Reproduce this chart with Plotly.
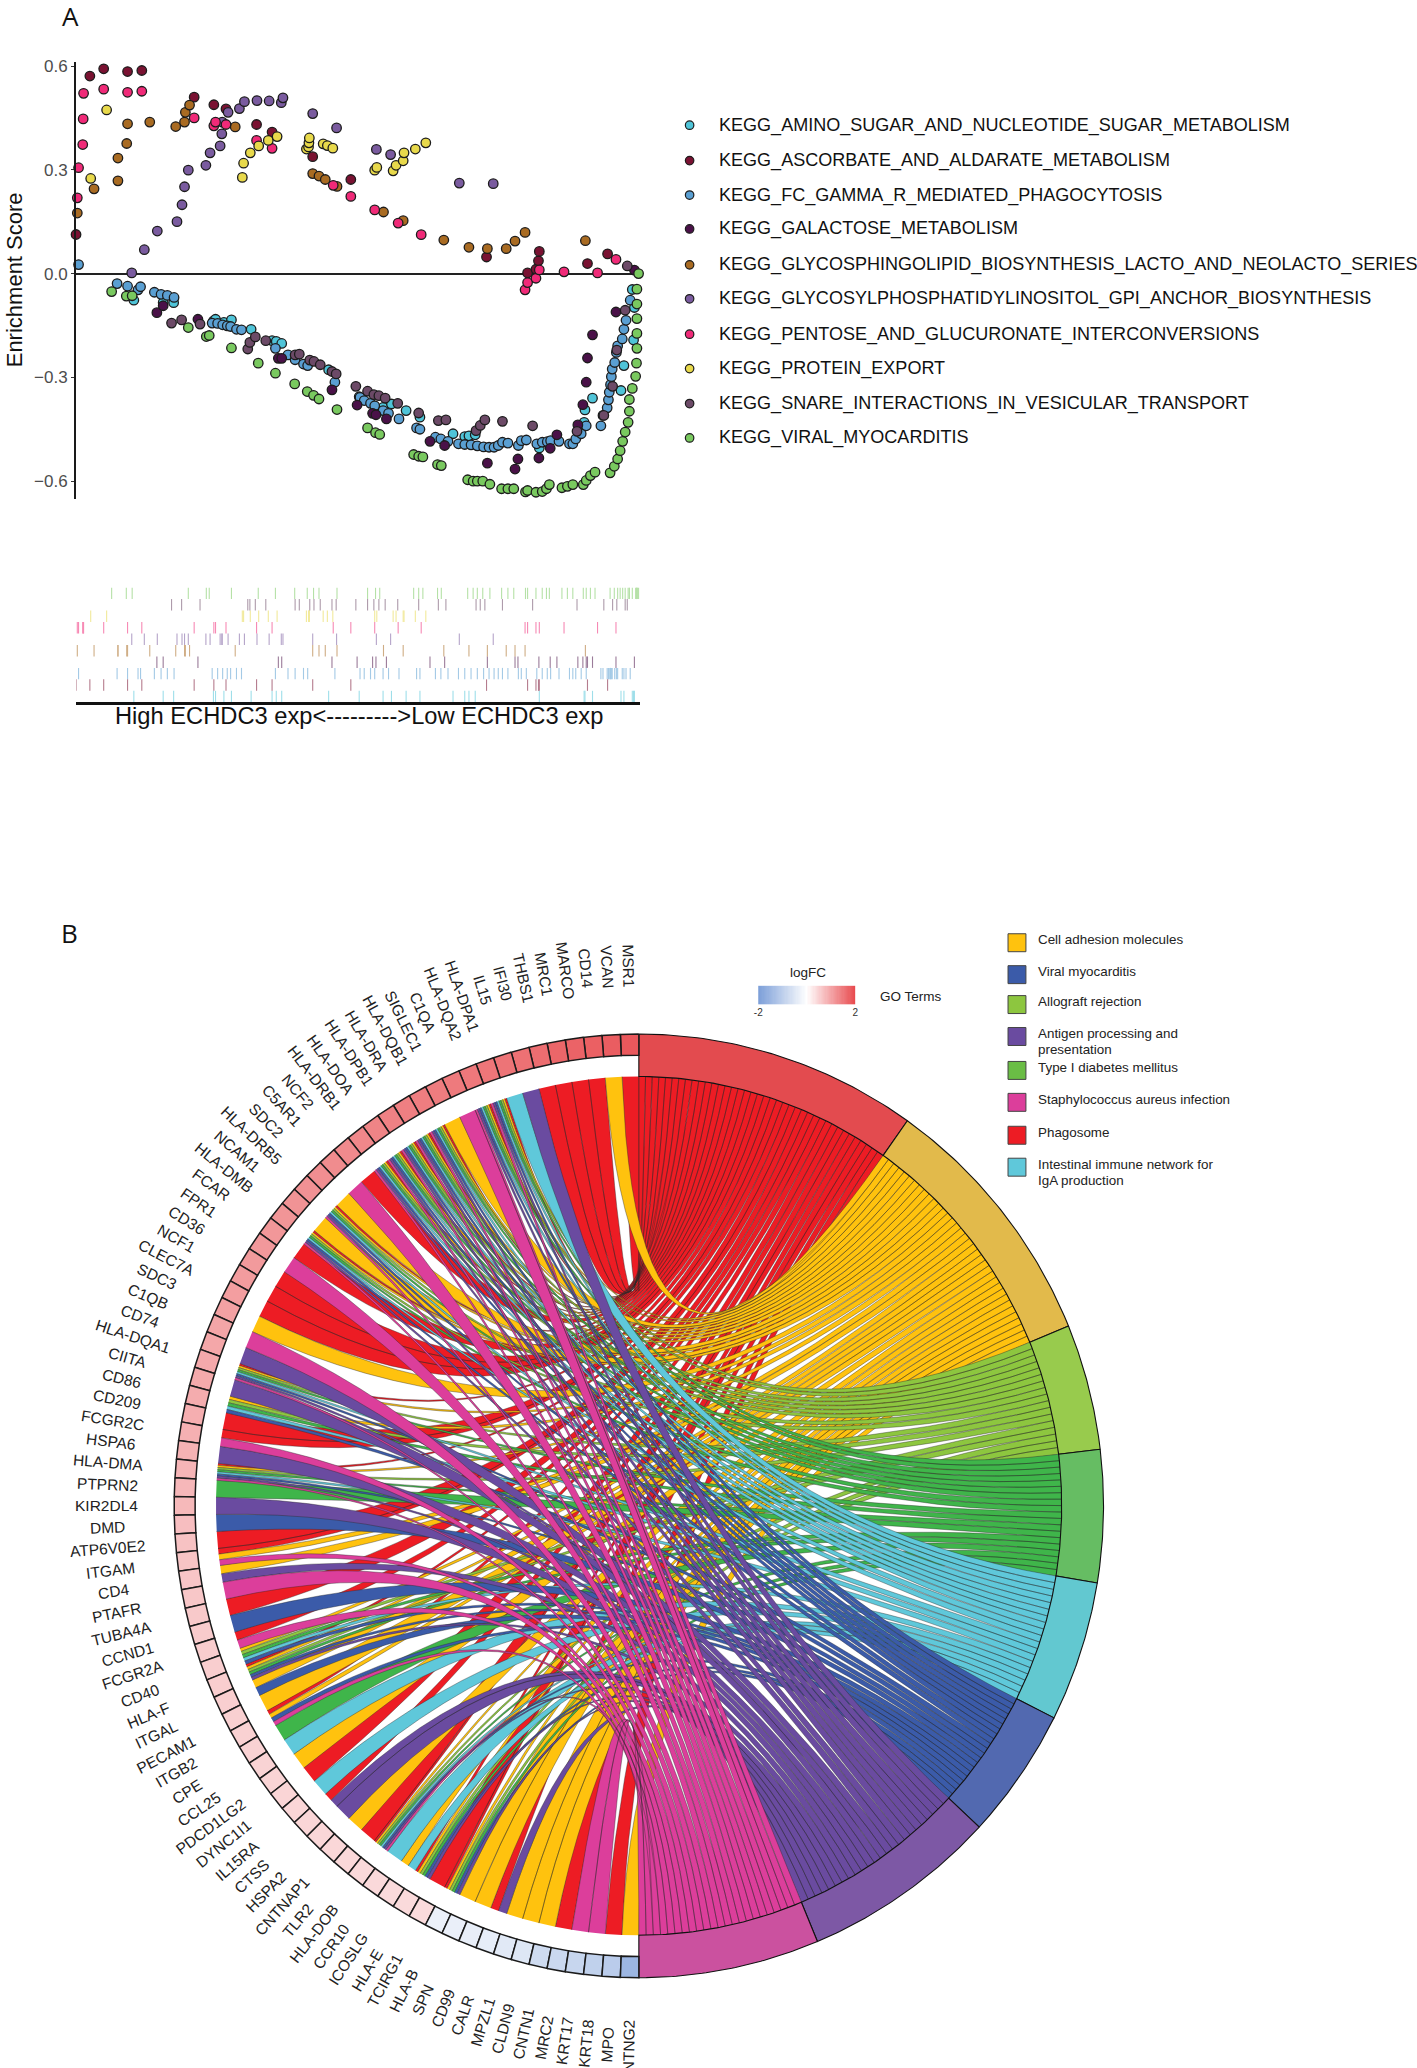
import numpy as np
import plotly.graph_objects as go
from plotly.colors import sample_colorscale

W, H = 1417, 2068

# --- Panel A: running enrichment scores, rank along the gene list / ES ---
amino_rank = [138, 208, 233, 328, 333, 353, 371, 418, 468, 478, 491, 603, 676, 733, 753, 788, 821, 900, 928, 938, 953,
              1106, 1213, 1215, 1233, 1301, 1308, 1331, 1333, 1328]
amino_es = [-.077, -.084, -.084, -.137, -.132, -.141, -.134, -.161, -.194, -.196, -.202, -.278, -.356, -.387, -.377,
            -.396, -.415, -.463, -.471, -.469, -.466, -.504, -.43, -.394, -.36, -.338, -.266, -.192, -.098, -.046]

ascorbate_rank = [0, 33, 66, 123, 157, 282, 329, 358, 431, 468, 565, 656, 980, 1078, 1098, 1104, 1106, 1221, 1269]
ascorbate_es = [.113, .571, .592, .584, .587, .51, .488, .476, .431, .409, .338, .272, .048, .002, .0125, .037, .064,
                .029, .057]

fc_rank = [6, 98, 123, 148, 154, 187, 203, 218, 234, 325, 338, 350, 361, 369, 383, 395, 476, 506, 523, 543, 553, 618,
           678, 688, 703, 713, 733, 746, 771, 813, 821, 858, 871, 888, 913, 928, 943, 958, 973, 986, 998, 1008, 1018,
           1031, 1056, 1063, 1075, 1100, 1113, 1125, 1133, 1153, 1178, 1186, 1193, 1206, 1218, 1253, 1258, 1268, 1271,
           1273, 1276, 1278, 1280, 1286, 1290, 1293, 1304, 1308, 1313, 1323]
fc_es = [.026, -.029, -.0365, -.047, -.038, -.054, -.06, -.063, -.069, -.143, -.144, -.148, -.151, -.153, -.161,
         -.1625, -.216, -.235, -.249, -.2615, -.266, -.314, -.358, -.367, -.375, -.382, -.396, -.404, -.42, -.446,
         -.45, -.473, -.478, -.485, -.492, -.494, -.495, -.498, -.501, -.502, -.502, -.497, -.4875, -.49, -.497,
         -.483, -.481, -.492, -.4875, -.486, -.483, -.485, -.492, -.492, -.478, -.463, -.44, -.44, -.41, -.388, -.365,
         -.343, -.321, -.298, -.276, -.257, -.228, -.209, -.189, -.161, -.135, -.077]

galactose_rank = [193, 208, 291, 483, 491, 611, 671, 708, 716, 741, 845, 880, 982, 1048, 1055, 1105, 1132, 1148, 1198,
                  1210, 1218, 1221, 1233, 1289, 1333]
galactose_es = [-.113, -.093, -.132, -.245, -.245, -.336, -.38, -.404, -.408, -.42, -.485, -.497, -.548, -.565, -.536,
                -.533, -.505, -.466, -.4375, -.379, -.314, -.244, -.177, -.111, .01]

glyco_rank = [3, 43, 100, 100, 121, 123, 176, 238, 259, 261, 271, 380, 565, 580, 595, 623, 734, 781, 878, 938, 982,
              1027, 1048, 1072, 1216]
glyco_es = [.175, .245, .268, .334, .376, .433, .438, .425, .438, .466, .487, .424, .289, .282, .272, .252, .178, .153,
            .097, .076, .072, .072, .094, .119, .095]

gpi_rank = [133, 163, 194, 241, 253, 259, 268, 310, 320, 344, 348, 349, 363, 390, 402, 432, 461, 490, 494, 565, 622,
            717, 751, 915, 996]
gpi_es = [.002, .069, .123, .15, .199, .251, .299, .313, .349, .369, .404, .438, .466, .477, .497, .5, .499, .494,
          .508, .4625, .421, .359, .344, .2615, .26]

pentose_rank = [3, 6, 16, 17, 18, 66, 123, 157, 282, 329, 333, 358, 431, 468, 614, 656, 713, 769, 824, 1072, 1078,
                1098, 1106, 1165, 1245, 1289]
pentose_es = [.219, .306, .373, .447, .521, .533, .524, .527, .45, .427, .438, .431, .385, .362, .255, .223, .184,
              .146, .1125, -.047, -.026, -.0135, .0106, .005, .002, .041]

protein_rank = [35, 73, 397, 400, 416, 436, 459, 480, 550, 555, 556, 557, 590, 600, 613, 713, 718, 757, 764, 781, 783,
                810, 835]
protein_es = [.275, .473, .278, .319, .349, .369, .385, .396, .36, .366, .378, .392, .375, .37, .3625, .299, .307,
              .297, .313, .326, .349, .36, .378]

snare_rank = [228, 252, 296, 410, 415, 428, 453, 523, 533, 558, 568, 583, 611, 621, 668, 696, 711, 723, 738, 768, 818,
              865, 883, 955, 965, 976, 1018, 1090, 1196, 1260, 1281, 1291, 1311, 1316]
snare_es = [-.143, -.134, -.146, -.218, -.199, -.183, -.194, -.235, -.233, -.25, -.254, -.2635, -.283, -.29, -.326,
            -.34, -.35, -.353, -.36, -.375, -.403, -.425, -.423, -.454, -.439, -.423, -.427, -.44, -.456, -.41, -.326,
            -.221, -.106, .022]

viral_rank = [85, 120, 134, 268, 311, 318, 371, 435, 476, 522, 552, 567, 580, 623, 696, 715, 725, 806, 818, 828, 863,
              872, 935, 948, 958, 971, 988, 1016, 1031, 1045, 1073, 1078, 1098, 1113, 1123, 1130, 1160, 1173, 1186,
              1211, 1218, 1228, 1239, 1275, 1285, 1293, 1299, 1305, 1311, 1318, 1321, 1321, 1328, 1336, 1338, 1339,
              1339, 1339, 1339, 1339, 1343]
viral_es = [-.052, -.065, -.064, -.156, -.182, -.179, -.215, -.259, -.288, -.319, -.341, -.352, -.3625, -.393, -.446,
            -.46, -.465, -.523, -.528, -.53, -.552, -.555, -.596, -.6, -.6, -.6, -.609, -.622, -.622, -.622, -.631,
            -.627, -.632, -.63, -.622, -.61, -.619, -.615, -.61, -.61, -.598, -.584, -.574, -.576, -.557, -.536,
            -.512, -.485, -.458, -.43, -.398, -.364, -.332, -.297, -.259, -.216, -.173, -.13, -.088, -.045, 0]

pathways = [
    "KEGG_AMINO_SUGAR_AND_NUCLEOTIDE_SUGAR_METABOLISM",
    "KEGG_ASCORBATE_AND_ALDARATE_METABOLISM",
    "KEGG_FC_GAMMA_R_MEDIATED_PHAGOCYTOSIS",
    "KEGG_GALACTOSE_METABOLISM",
    "KEGG_GLYCOSPHINGOLIPID_BIOSYNTHESIS_LACTO_AND_NEOLACTO_SERIES",
    "KEGG_GLYCOSYLPHOSPHATIDYLINOSITOL_GPI_ANCHOR_BIOSYNTHESIS",
    "KEGG_PENTOSE_AND_GLUCURONATE_INTERCONVERSIONS",
    "KEGG_PROTEIN_EXPORT",
    "KEGG_SNARE_INTERACTIONS_IN_VESICULAR_TRANSPORT",
    "KEGG_VIRAL_MYOCARDITIS",
]
pathway_colors = ["#4FC4D8", "#7A1232", "#5A9FD2", "#4A1148", "#A96B22", "#7A5B9F", "#F02A78", "#E8D94B", "#6C4A67",
                  "#79C95F"]
pathway_ranks = [amino_rank, ascorbate_rank, fc_rank, galactose_rank, glyco_rank, gpi_rank, pentose_rank, protein_rank,
                 snare_rank, viral_rank]
pathway_es = [amino_es, ascorbate_es, fc_es, galactose_es, glyco_es, gpi_es, pentose_es, protein_es, snare_es, viral_es]

# --- Panel B: gene / term chord ---
genes = ["MSR1", "VCAN", "CD14", "MARCO", "MRC1", "THBS1", "IFI30", "IL15", "HLA-DPA1", "HLA-DQA2", "C1QA", "SIGLEC1",
         "HLA-DQB1", "HLA-DRA", "HLA-DPB1", "HLA-DOA", "HLA-DRB1", "NCF2", "C5AR1", "SDC2", "HLA-DRB5", "NCAM1",
         "HLA-DMB", "FCAR", "FPR1", "CD36", "NCF1", "CLEC7A", "SDC3", "C1QB", "CD74", "HLA-DQA1", "CIITA", "CD86",
         "CD209", "FCGR2C", "HSPA6", "HLA-DMA", "PTPRN2", "KIR2DL4", "DMD", "ATP6V0E2", "ITGAM", "CD4", "PTAFR",
         "TUBA4A", "CCND1", "FCGR2A", "CD40", "HLA-F", "ITGAL", "PECAM1", "ITGB2", "CPE", "CCL25", "PDCD1LG2",
         "DYNC1I1", "IL15RA", "CTSS", "HSPA2", "CNTNAP1", "TLR2", "HLA-DOB", "CCR10", "ICOSLG", "HLA-E", "TCIRG1",
         "HLA-B", "SPN", "CD99", "CALR", "MPZL1", "CLDN9", "CNTN1", "MRC2", "KRT17", "KRT18", "MPO", "NTNG2"]
ALL = "PCATIVGS"
# term membership of each gene, in sector order
gene_terms = ["P", "C", "P", "P", "P", "P", "G", "I", ALL, ALL, "S", "C",
              ALL, ALL, ALL, ALL, ALL, "P", "S", "C", ALL, "C",
              ALL, "P", "S", "P", "P", "P", "C", "S", "G", ALL, "G", "CATIV",
              "P", "PS", "G", ALL, "T", "G", "V", "P", "PCS", "CG", "S",
              "P", "V", "PS", "CATIV", "PCATVG", "CV", "C", "PCVS", "T", "I", "C",
              "P", "I", "PG", "G", "C", "P", ALL, "I", "CI", "PCATVG", "P",
              "PCATVG", "C", "C", "PG", "C", "C", "C", "P", "S", "S", "P", "C"]
logfc = [1.85, 1.8, 1.77, 1.73, 1.7, 1.62, 1.58, 1.55, 1.52, 1.5, 1.48, 1.46, 1.44, 1.42, 1.4, 1.37, 1.33, 1.3, 1.28,
         1.25, 1.22, 1.2, 1.18, 1.16, 1.14, 1.12, 1.1, 1.08, 1.05, 1.0, .98, .96, .94, .92, .9, .88, .85, .82, .8, .78,
         .72, .68, .66, .64, .62, .6, .58, .56, .55, .54, .53, .52, .51, .5, .49, .48, .47, .46, .45, .44, .44, .43,
         .42, .42, .41, .41, .4, -.3, -.32, -.35, -.38, -.45, -.5, -.75, -.8, -.85, -.95, -1.05, -1.5]

term_codes = "PCATIVGS"
# sector widths in degrees, as read from the outer ring
term_span = [35.3, 32.3, 15.5, 16.3, 17.3, 16.2, 24.5, 22.6]
term_ribbon = ["#ED1C24", "#FFC20E", "#8DC63F", "#3FB54A", "#5FC8DA", "#3B5BA9", "#6A4BA0", "#DC3E9B"]
term_sector = ["#E34B4F", "#E2BA4B", "#98CB4D", "#66BD63", "#62C8D0", "#5269B0", "#7D58A5", "#CB519F"]

legend_terms = [["Cell adhesion molecules"], ["Viral myocarditis"], ["Allograft rejection"],
                ["Antigen processing and", "presentation"], ["Type I diabetes mellitus"],
                ["Staphylococcus aureus infection"], ["Phagosome"], ["Intestinal immune network for", "IgA production"]]
legend_colors = ["#FFC20E", "#3B5BA9", "#8DC63F", "#6A4BA0", "#6ABD45", "#DC3E9B", "#ED1C24", "#5FC8DA"]
legend_tops = [931, 963, 993, 1025, 1059, 1091, 1124, 1156]

logfc_scale = [[0, "#7B9ED8"], [0.5, "#FFFFFF"], [1, "#E84B4F"]]
logfc_bar = list(np.linspace(-2, 2, 81))

fig = go.Figure()


def x_dom(a, b):
    return [a / W, b / W]


def y_dom(top, bottom):
    return [1 - bottom / H, 1 - top / H]


# enrichment dots
for name, color, xs, ys in zip(pathways, pathway_colors, pathway_ranks, pathway_es):
    fig.add_trace(go.Scatter(x=xs, y=ys, mode="markers", name=name, cliponaxis=False,
                             marker=dict(size=9.5, color=color, line=dict(color="#1c1c1c", width=1.3)),
                             xaxis="x", yaxis="y"))

# rug: same ranks, one row per pathway, first pathway at the bottom
for row, (color, xs) in enumerate(zip(pathway_colors, pathway_ranks)):
    rx, ry = [], []
    for v in xs:
        rx += [v, v, None]
        ry += [row, row + 1, None]
    fig.add_trace(go.Scatter(x=rx, y=ry, mode="lines", opacity=0.55, line=dict(color=color, width=1.1),
                             xaxis="x2", yaxis="y2", hoverinfo="skip"))

# chord geometry, in page pixels on an overlay axis
CX, CY, RX, RY = 638, 1504.5, 467, 473
R_IN, R_GENE = 0.91, 0.955
n_genes = len(genes)
step = np.pi / n_genes
term_counts = [sum(c in g for g in gene_terms) for c in term_codes]
span_rad = np.radians(term_span)
term_width = span_rad / np.array(term_counts)
term_start = np.concatenate([[0], np.cumsum(span_rad)])


def px(r, a):
    return CX + RX * r * np.sin(a), CY - RY * r * np.cos(a)


def bez(g, a):
    t = np.linspace(0, 1, 28)
    gx, gy = -np.sin(g), np.cos(g)
    tx, ty = np.sin(a), np.cos(a)
    return (CX + RX * R_IN * ((1 - t) ** 2 * gx + t ** 2 * tx),
            CY - RY * R_IN * ((1 - t) ** 2 * gy + t ** 2 * ty))


for k, code in enumerate(term_codes):
    xs, ys = [], []
    pos = 0
    for i, members in enumerate(gene_terms):
        if code not in members:
            continue
        share = step / len(members)
        g0 = i * step + members.index(code) * share
        a0 = term_start[k] + pos * term_width[k]
        pos += 1
        x1, y1 = bez(g0, a0)
        x2, y2 = bez(g0 + share, a0 + term_width[k])
        xs += list(x1) + list(x2[::-1]) + [None]
        ys += list(y1) + list(y2[::-1]) + [None]
    fig.add_trace(go.Scatter(x=xs, y=ys, mode="lines", fill="toself", fillcolor=term_ribbon[k],
                             line=dict(color="rgba(40,40,40,0.65)", width=0.6),
                             xaxis="x3", yaxis="y3", hoverinfo="skip"))

# term sectors
for k in range(len(term_codes)):
    a = np.linspace(term_start[k], term_start[k + 1], 50)
    xo, yo = px(1, a)
    xi, yi = px(R_IN, a[::-1])
    fig.add_trace(go.Scatter(x=list(xo) + list(xi) + [xo[0]], y=list(yo) + list(yi) + [yo[0]], mode="lines",
                             fill="toself", fillcolor=term_sector[k], line=dict(color="#111111", width=1.1),
                             xaxis="x3", yaxis="y3", hoverinfo="skip"))

# gene cells and labels
cell_colors = sample_colorscale(logfc_scale, [(v + 2) / 4 for v in logfc])
annotations = []
for i, gene in enumerate(genes):
    a = -np.linspace(i * step, (i + 1) * step, 5)
    xo, yo = px(1, a)
    xi, yi = px(R_GENE, a[::-1])
    fig.add_trace(go.Scatter(x=list(xo) + list(xi) + [xo[0]], y=list(yo) + list(yi) + [yo[0]], mode="lines",
                             fill="toself", fillcolor=cell_colors[i], line=dict(color="#1a1a1a", width=1.5),
                             xaxis="x3", yaxis="y3", hoverinfo="skip"))
    mid = (i + 0.5) * step
    lx, ly = px(1.145, -mid)
    annotations.append(dict(x=lx, y=ly, xref="x3", yref="y3", text=gene, showarrow=False, textangle=90 - np.degrees(mid),
                            xanchor="center", yanchor="middle", font=dict(size=15.5, color="#222222")))

# logFC colour bar
fig.add_trace(go.Heatmap(z=[logfc_bar], x=logfc_bar, y=[0], colorscale=logfc_scale, zmin=-2, zmax=2, showscale=False,
                         xaxis="x4", yaxis="y4", hoverinfo="skip"))

# pathway legend, in page pixels
legend_rows = [120.5, 156, 190.5, 224.5, 260.5, 294.5, 330, 364.5, 399.5, 434]
fig.add_trace(go.Scatter(x=[689] * len(pathways), y=legend_rows, mode="markers", xaxis="x3", yaxis="y3",
                         marker=dict(size=8.5, color=pathway_colors, line=dict(color="#1c1c1c", width=1.2)),
                         hoverinfo="skip"))
for name, row in zip(pathways, legend_rows):
    annotations.append(dict(x=717, y=row, xref="x3", yref="y3", text=name, showarrow=False, xanchor="left",
                            yanchor="middle", font=dict(size=18.05, color="#111111")))

# term legend
for lines, color, top in zip(legend_terms, legend_colors, legend_tops):
    fig.add_trace(go.Scatter(x=[1009, 1027, 1027, 1009, 1009], y=[top, top, top + 18, top + 18, top], mode="lines",
                             fill="toself", fillcolor=color, line=dict(color="#444444", width=1),
                             xaxis="x3", yaxis="y3", hoverinfo="skip"))
    for j, line in enumerate(lines):
        annotations.append(dict(x=1037.5, y=top + 6 + j * 16, xref="x3", yref="y3", text=line, showarrow=False,
                                xanchor="left", yanchor="middle", font=dict(size=13.4, color="#222222")))

texts = [
    ("A", 67, 11, 26, 0, "Open Sans", "#111111"),
    ("B", 66, 930, 26, 0, "Open Sans", "#111111"),
    ("Enrichment Score", 10, 275, 22, -90, "Liberation Sans", "#111111"),
    ("High ECHDC3 exp<--------->Low ECHDC3 exp", 357, 713, 23.7, 0, "Liberation Sans", "#111111"),
    ("logFC", 808, 970, 13.5, 0, "Liberation Sans", "#222222"),
    ("GO Terms", 911.5, 994, 13.5, 0, "Liberation Sans", "#222222"),
]
for text, x, y, size, angle, family, color in texts:
    annotations.append(dict(x=x, y=y, xref="x3", yref="y3", text=text, showarrow=False, textangle=angle,
                            xanchor="center", yanchor="middle", font=dict(size=size, family=family, color=color)))

fig.update_layout(
    width=W, height=H, margin=dict(l=0, r=0, t=0, b=0), autosize=False, showlegend=False,
    plot_bgcolor="rgba(0,0,0,0)", paper_bgcolor="white", font=dict(family="Liberation Sans"),
    annotations=annotations,
    xaxis=dict(domain=x_dom(72.4, 639), range=[0, 1346], visible=False),
    yaxis=dict(domain=y_dom(57, 495), range=[-.651, .612], tickvals=[-.6, -.3, 0, .3, .6],
               ticktext=["\u22120.6", "\u22120.3", "0.0", "0.3", "0.6"], tickfont=dict(size=17, color="#4d4d4d"),
               showgrid=False, showline=True, linecolor="#1a1a1a", linewidth=2, ticks="outside", ticklen=3,
               tickcolor="#333333", zeroline=True, zerolinecolor="#222222", zerolinewidth=2),
    xaxis2=dict(domain=x_dom(72.4, 639), range=[0, 1346], anchor="y2", showline=True, linecolor="#111111", linewidth=2.5,
                showgrid=False, zeroline=False, showticklabels=False, ticks=""),
    yaxis2=dict(domain=y_dom(584, 699), range=[0, 10], anchor="x2", visible=False),
    xaxis3=dict(domain=[0, 1], range=[0, W], anchor="y3", visible=False),
    yaxis3=dict(domain=[0, 1], range=[H, 0], anchor="x3", visible=False),
    xaxis4=dict(domain=x_dom(758, 855.5), range=[-2, 2], anchor="y4", tickvals=[-2, 2], ticktext=["-2", "2"],
                tickfont=dict(size=10, color="#333333"), showgrid=False, zeroline=False, ticks=""),
    yaxis4=dict(domain=y_dom(983, 1002), range=[-.5, .5], anchor="x4", visible=False),
)

fig.write_html("out.html", post_script="document.body.style.margin='0';", config={"displayModeBar": False})
